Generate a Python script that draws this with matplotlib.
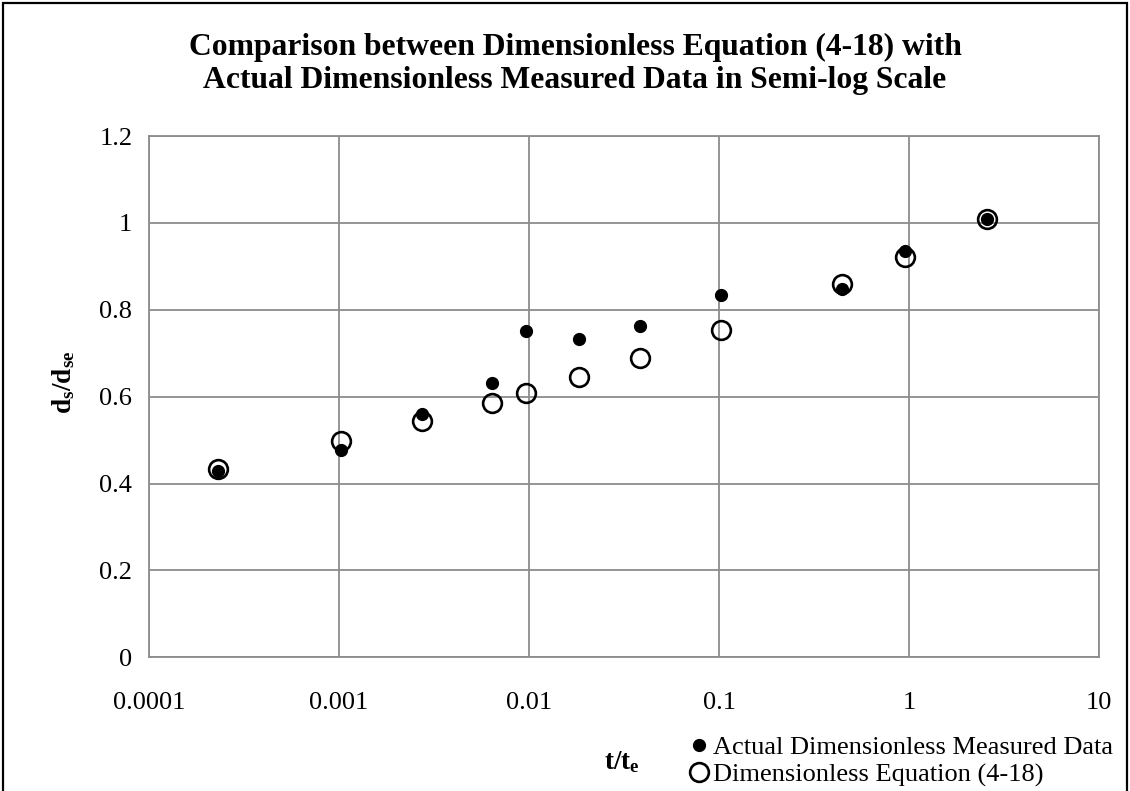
import matplotlib
matplotlib.use('Agg')
import matplotlib.pyplot as plt
import matplotlib.patches as patches

plt.rcParams['font.family'] = ['Liberation Serif', 'DejaVu Serif']
plt.rcParams['mathtext.fontset'] = 'custom'
plt.rcParams['mathtext.rm'] = 'Liberation Serif'
plt.rcParams['mathtext.bf'] = 'Liberation Serif:bold'
plt.rcParams['mathtext.it'] = 'Liberation Serif:italic'

#======================================================
# data
t_te = [0.00023, 0.00102, 0.00275, 0.0064, 0.0096, 0.0184, 0.0386, 0.1028, 0.446, 0.948, 2.565]
measured = [0.428, 0.478, 0.561, 0.632, 0.751, 0.732, 0.763, 0.834, 0.848, 0.935, 1.010]
equation = [0.434, 0.498, 0.543, 0.586, 0.609, 0.646, 0.690, 0.754, 0.859, 0.921, 1.008]

title = 'Comparison between Dimensionless Equation (4-18) with\nActual Dimensionless Measured Data in Semi-log Scale'
xticks = [0.0001, 0.001, 0.01, 0.1, 1, 10]
xticklabels = ['0.0001', '0.001', '0.01', '0.1', '1', '10']
yticks = [0, 0.2, 0.4, 0.6, 0.8, 1, 1.2]
yticklabels = ['0', '0.2', '0.4', '0.6', '0.8', '1', '1.2']

#======================================================
fig = plt.figure(figsize=(11.3, 7.91), dpi=100)
ax = fig.add_axes([149/1130, 1 - 657.3/791, 950/1130, 521.3/791])

ax.set_xscale('log')
ax.set_xlim(1e-4, 10)
ax.set_ylim(0, 1.2)
ax.set_xticks(xticks)
ax.set_xticklabels(xticklabels)
ax.set_yticks(yticks)
ax.set_yticklabels(yticklabels)
ax.xaxis.set_minor_locator(matplotlib.ticker.NullLocator())
ax.tick_params(axis='both', length=0, labelsize=19)
ax.tick_params(axis='x', pad=25)
ax.tick_params(axis='y', pad=12)

ax.grid(True, which='major', color='#8c8c8c', linewidth=1.3)
ax.set_axisbelow(True)
for s in ax.spines.values():
    s.set_color('#8c8c8c')
    s.set_linewidth(1.3)

#======================================================
ax.plot(t_te, measured, linestyle='none', marker='o', markersize=8.5,
        color='black', label='Actual Dimensionless Measured Data', zorder=4)
ax.plot(t_te, equation, linestyle='none', marker='o', markersize=13.5,
        markerfacecolor='none', markeredgecolor='black', markeredgewidth=1.9,
        label='Dimensionless Equation (4-18)', zorder=3)

fig.text(575/1130, 1 - 64/791, title, ha='center', va='center',
         fontsize=22.8, fontweight='bold', linespacing=1.22)

fig.text(622/1130, 1 - 762/791, r'$\mathbf{t/t_e}$', ha='center', va='center', fontsize=19.5)
fig.text(64/1130, 1 - 382/791, r'$\mathbf{d_s/d_{se}}$', ha='center', va='center',
         fontsize=19.5, rotation=90)

leg = fig.legend(loc='center left', bbox_to_anchor=(691/1130, 1 - 761/791),
                 frameon=False, fontsize=19, handlelength=0.6, handletextpad=0.23,
                 labelspacing=0.15, borderpad=0, borderaxespad=0)

# outer frame of the chart area
fig.add_artist(patches.Rectangle((3/1130, -0.05), 1124/1130, 1.05 - 3/791,
                                 transform=fig.transFigure, fill=False,
                                 edgecolor='black', linewidth=1.6))

fig.savefig('out.png', dpi=100)
